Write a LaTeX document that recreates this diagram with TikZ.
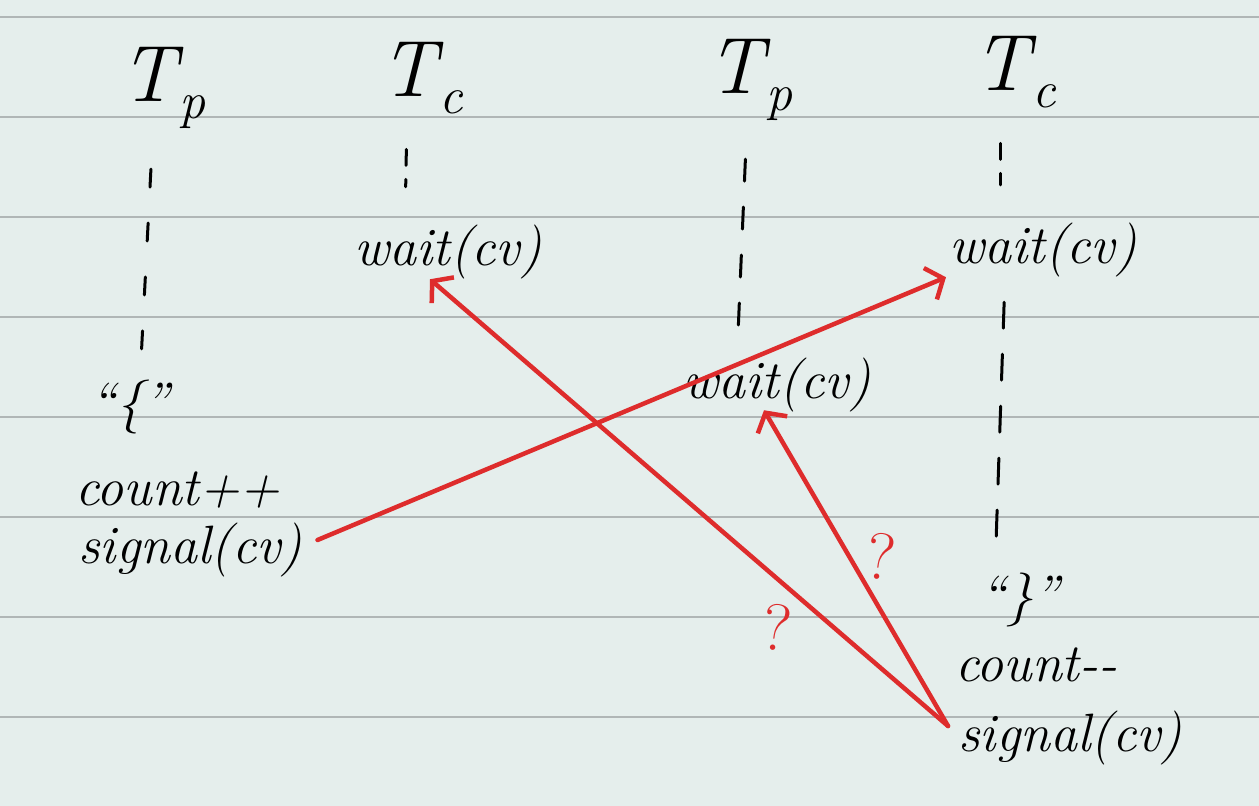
\documentclass[tikz,border=0pt]{standalone}
\usetikzlibrary{arrows.meta,calc}
\definecolor{paper}{RGB}{229,238,236}
\definecolor{rulec}{RGB}{176,182,182}
\definecolor{pen}{RGB}{222,44,44}
\newcommand{\hdr}[2]{\itshape #1\kern0.04em\raisebox{-0.22em}{\fontsize{52}{56}\selectfont\itshape #2}}
\begin{document}
\begin{tikzpicture}[x=1pt,y=-1pt,
  hand/.style={font=\fontsize{54}{60}\selectfont\itshape, inner sep=0pt, text=black},
  head/.style={font=\fontsize{80}{90}\selectfont, inner sep=0pt, text=black},
  life/.style={line width=3pt, dash pattern=on 18pt off 36pt, line cap=round},
  lifeshort/.style={line width=3pt, dash pattern=on 16pt off 14pt, line cap=round},
  redarrow/.style={draw=pen, line width=4.5pt, line cap=round, -{Straight Barb[length=14pt,width=34pt,line width=4.5pt]}},
  qmark/.style={text=pen, inner sep=0pt, font=\fontsize{66}{70}\selectfont}]
\useasboundingbox (0,0) rectangle (1259,806);
\fill[paper] (0,0) rectangle (1259,806);
\foreach \y in {17,117,...,717} \draw[rulec, line width=2pt] (0,\y) -- (1259,\y);

% headers
\node[head] (tp1) at (163,88) {\hdr{T}{p}};
\node[head] (tc1) at (422,78) {\hdr{T}{c}};
\node[head] (tp2) at (750,80) {\hdr{T}{p}};
\node[head] (tc2) at (1015,72) {\hdr{T}{c}};

% texts
\node[hand] (w1) at (448,252) {wait(cv)};
\node[hand] (w2) at (1043,250) {wait(cv)};
\node[hand] (w3) at (777,385) {wait(cv)};
\node[hand] (br1) at (130,407) {``\{''};
\node[hand, anchor=west] (c1) at (75,490) {count++};
\node[hand, anchor=west] (s1) at (78,550) {signal(cv)};
\node[hand] (br2) at (1020,600) {``\}''};
\node[hand, anchor=west] (c2) at (955,665) {count-{}-};
\node[hand, anchor=west] (s2) at (958,738) {signal(cv)};

% lifelines
\draw[life, shorten <=40pt, shorten >=25pt] ([xshift=-10pt]tp1.south) -- ([xshift=10pt]br1.north);
\draw[lifeshort, shorten <=35pt, shorten >=38pt] ([xshift=-15pt]tc1.south) -- ([xshift=-43pt]w1.north);
\draw[life, dash pattern=on 22pt off 26pt, shorten <=38pt, shorten >=30pt] ([xshift=-3pt]tp2.south) -- ([xshift=-40pt]w3.north);
\draw[lifeshort, shorten <=35pt, shorten >=38pt] ([xshift=-15pt]tc2.south) -- ([xshift=-43pt]w2.north);
\draw[life, dash pattern=on 26pt off 26pt, shorten <=25pt, shorten >=20pt] ([xshift=-38pt]w2.south) -- ([xshift=-25pt]br2.north);

% red arrows
\draw[redarrow] ($(s1.east)+(15,-10)$) -- ($(w2.south west)+(-3,0)$);
\draw[redarrow] ($(s2.west)+(-10,-12)$) -- ($(w1.south)+(-18,0)$);
\draw[redarrow] ($(s2.west)+(-10,-12)$) -- ($(w3.south)+(-13,-2)$);

% question marks
\node[qmark, rotate=-8] (q1) at (881,557) {?};
\node[qmark, rotate=-8] (q2) at (777,628) {?};
\end{tikzpicture}
\end{document}
